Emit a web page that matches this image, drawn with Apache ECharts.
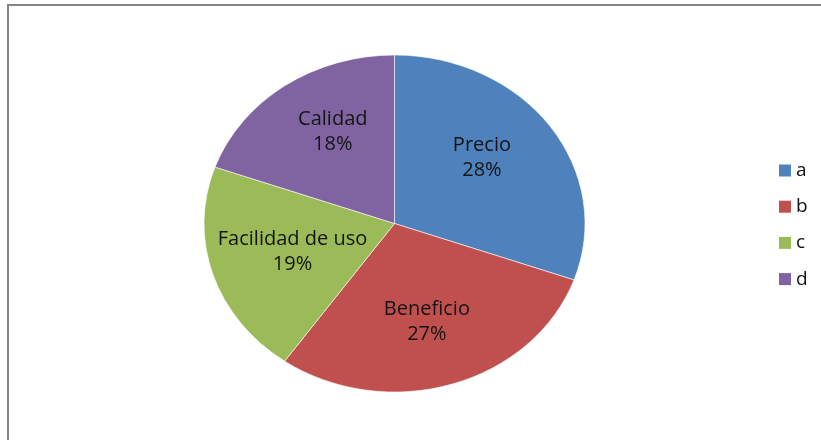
<!DOCTYPE html>
<html>
<head>
<meta charset="utf-8">
<script src="https://cdn.jsdelivr.net/npm/echarts@6/dist/echarts.min.js"></script>
<style>
  html, body { margin: 0; padding: 0; background: #fff; }
  #wrap { position: relative; width: 821px; height: 440px; overflow: hidden; }
  #pie, #over { position: absolute; left: 0; top: 0; width: 821px; height: 440px; }
  #pie { transform: scaleX(1.1306); transform-origin: 394.5px 223.5px; }
</style>
</head>
<body>
<div id="wrap">
  <div id="pie"></div>
  <div id="over"></div>
</div>
<script>
// ---- data ----
var legendNames = ['a', 'b', 'c', 'd'];
var sliceLabels = ['Precio', 'Beneficio', 'Facilidad de uso', 'Calidad'];
var values = [28, 27, 19, 18];
var colors = ['#4F81BD', '#C0504D', '#9BBB59', '#8064A2'];

var CX = 394.5, CY = 223.5;
var FONT = '"Open Sans", Lato, sans-serif';

function buildData() {
  return legendNames.map(function (n, i) {
    return { name: n, value: values[i] };
  });
}

// pie slices (stretched horizontally to reproduce the elliptical pie)
var pieChart = echarts.init(document.getElementById('pie'), null, { renderer: 'svg' });
pieChart.setOption({
  animation: false,
  color: colors,
  series: [{
    type: 'pie',
    center: [CX, CY],
    radius: 168.5,
    startAngle: 90,
    clockwise: true,
    silent: true,
    label: { show: false },
    labelLine: { show: false },
    itemStyle: { borderColor: 'rgba(255,255,255,0.7)', borderWidth: 0.8 },
    data: buildData()
  }]
});

// overlay: frame, legend and labels (not stretched)
var overChart = echarts.init(document.getElementById('over'), null, { renderer: 'canvas' });
overChart.setOption({
  animation: false,
  backgroundColor: 'transparent',
  color: colors,
  graphic: [{
    type: 'rect',
    silent: true,
    shape: { x: 8, y: 5, width: 830, height: 460 },
    style: { fill: 'none', stroke: '#858585', lineWidth: 2 }
  }],
  legend: {
    orient: 'vertical',
    left: 779,
    top: 161,
    padding: 0,
    itemWidth: 12,
    itemHeight: 12,
    itemGap: 17.2,
    itemTextGap: 6,
    textStyle: { fontFamily: FONT, fontSize: 19, lineHeight: 18, color: '#111' },
    selectedMode: false,
    data: legendNames.map(function (n, i) {
      return { name: n, icon: 'rect', itemStyle: { color: colors[i], opacity: 1 } };
    })
  },
  series: [{
    type: 'pie',
    center: [CX, CY],
    radius: [62, 146],
    startAngle: 90,
    clockwise: true,
    silent: true,
    avoidLabelOverlap: false,
    itemStyle: { color: 'rgba(0,0,0,0)', borderWidth: 0 },
    labelLine: { show: false },
    label: {
      show: true,
      position: 'inside',
      rotate: 0,
      offset: [0, -4],
      fontFamily: FONT,
      fontSize: 20,
      lineHeight: 25,
      color: '#141414',
      align: 'center',
      formatter: function (p) {
        return sliceLabels[p.dataIndex] + '\n' + values[p.dataIndex] + '%';
      }
    },
    emphasis: { disabled: true },
    data: buildData()
  }]
});
</script>
</body>
</html>
